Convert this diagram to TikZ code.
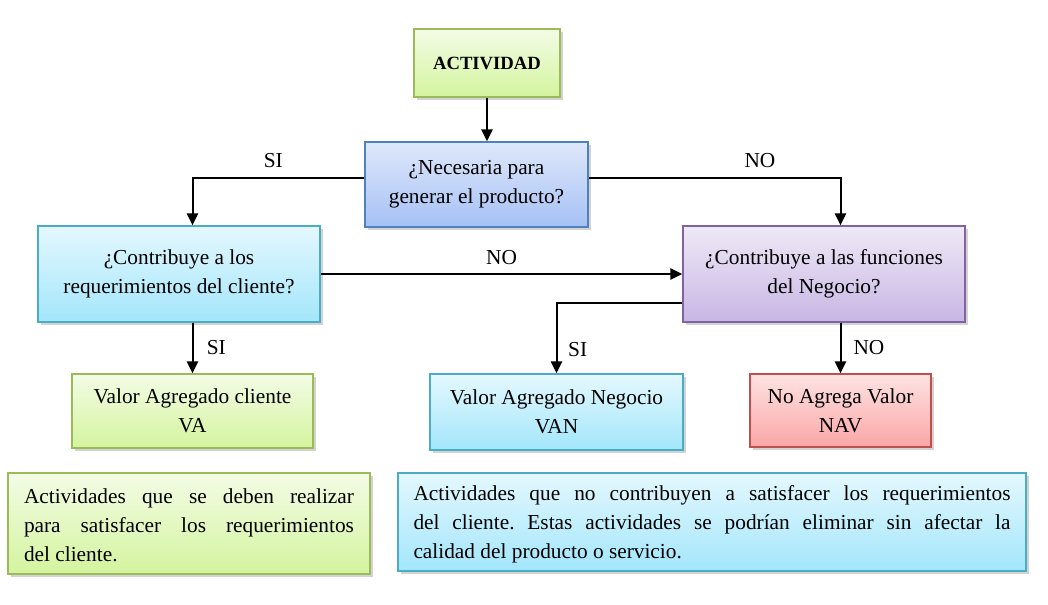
\documentclass[tikz,border=0pt]{standalone}
\usepackage{fontspec}
\setmainfont{Liberation Serif}
\usetikzlibrary{arrows.meta,shadows}
\definecolor{grnline}{HTML}{9BBB59}\definecolor{grntop}{HTML}{F3FCE6}\definecolor{grnbot}{HTML}{D4F49E}
\definecolor{cyaline}{HTML}{4BACC6}\definecolor{cyatop}{HTML}{E4F8FE}\definecolor{cyabot}{HTML}{A3E6FB}
\definecolor{bluline}{HTML}{4F81BD}\definecolor{blutop}{HTML}{DFE8FA}\definecolor{blubot}{HTML}{A6C1F5}
\definecolor{purline}{HTML}{8064A2}\definecolor{purtop}{HTML}{EFE9F6}\definecolor{purbot}{HTML}{C8B6E4}
\definecolor{redline}{HTML}{C0504D}\definecolor{redtop}{HTML}{FDE3E3}\definecolor{redbot}{HTML}{FBA6A6}
\def\txt{\fontsize{16}{21.75}\selectfont}
\def\dn#1{\rule{0pt}{#1pt}}
\tikzset{
  box/.style={draw, line width=1.1pt, inner sep=0pt, align=center, font=\txt,
    drop shadow={shadow xshift=2.5pt, shadow yshift=-2.5pt, opacity=0.35}},
  greenbox/.style={box, draw=grnline, top color=grntop, bottom color=grnbot},
  cyanbox/.style={box, draw=cyaline, top color=cyatop, bottom color=cyabot},
  bluebox/.style={box, draw=bluline, top color=blutop, bottom color=blubot},
  purplebox/.style={box, draw=purline, top color=purtop, bottom color=purbot},
  redbox/.style={box, draw=redline, top color=redtop, bottom color=redbot},
  arrowline/.style={line width=1.5pt, -{Triangle[length=9pt,width=8.5pt]}},
  lbl/.style={font=\txt, inner sep=2pt}
}

\begin{document}
\frenchspacing
\begin{tikzpicture}[x=0.75pt, y=-0.75pt]
			%%%%% START %%%%%
			\useasboundingbox (0, 0) rectangle (1048, 605);
			
			\node[greenbox, minimum width=109.5pt, minimum height=51pt, font=\fontsize{14}{18}\selectfont\bfseries] (act) at (487, 63) {ACTIVIDAD};
			\node[bluebox, minimum width=167.25pt, minimum height=63.75pt] (nec) at (476.5, 184.5) {¿Necesaria para\\generar el producto?};
			
			\node[cyanbox, minimum width=211.5pt, minimum height=72pt] (cli) at (179, 274) {¿Contribuye a los\\requerimientos del cliente?};
			\node[purplebox, minimum width=211.5pt, minimum height=72pt] (neg) at (824, 274) {¿Contribuye a las funciones\\del Negocio?};
			
			\node[greenbox, minimum width=180.75pt, minimum height=55.5pt] (va) at (192.5, 411) {Valor Agregado cliente\\VA};
			\node[cyanbox, minimum width=189.75pt, minimum height=57pt] (van) at (556.5, 412) {Valor Agregado Negocio\\VAN};
			\node[redbox, minimum width=135.75pt, minimum height=54.75pt] (nav) at (840.5, 410.5) {No Agrega Valor\\NAV};
			
			\node[greenbox, minimum width=271.5pt, minimum height=75.75pt, text width=247.5pt, align=justify] (vatext) at (189, 523.5) {\dn{14}Actividades que se deben realizar\linebreak para satisfacer los requerimientos\linebreak del cliente.};
			\node[cyanbox, minimum width=471pt, minimum height=73.5pt, text width=447.75pt, align=justify] (navtext) at (712, 522) {\dn{14}Actividades que no contribuyen a satisfacer los requerimientos\linebreak del cliente. Estas actividades se podrían eliminar sin afectar la\linebreak calidad del producto o servicio.};
			
			\draw[arrowline] (act.south) -- (act.south |- nec.north);
			\draw[arrowline] ([yshift=5pt]nec.west) -| (va.north |- cli.north) node[lbl, pos=0.265, above=5pt] (si1) {SI};
			\draw[arrowline] ([yshift=5pt]nec.east) -| (nav.north |- neg.north) node[lbl, pos=0.34, above=5pt] (no1) {NO};
			\draw[arrowline] (cli) -- (neg) node[lbl, midway, above=4pt] (no2) {NO};
			\draw[arrowline] (va.north |- cli.south) -- (va.north) node[lbl, midway, right=8pt] (si2) {SI};
			\draw[arrowline] ([yshift=-21.75pt]neg.west) -| (van.north) node[lbl, pos=0.83, right=6pt] (si3) {SI};
			\draw[arrowline] (nav.north |- neg.south) -- (nav.north) node[lbl, midway, right=7pt] (no3) {NO};
			%%%%% END %%%%%
		\end{tikzpicture}
\end{document}
